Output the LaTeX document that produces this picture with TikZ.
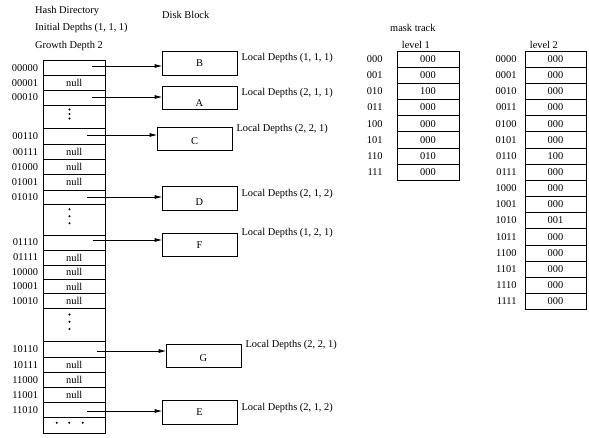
\documentclass[tikz,border=0pt]{standalone}
\usepackage{fontspec}
\setmainfont{Liberation Serif}
\usetikzlibrary{arrows.meta, positioning}

\tikzset{
  cell/.style={draw, line width=0.6pt, minimum width=61.5pt, inner sep=0pt},
  block/.style={draw, line width=0.7pt, minimum width=75pt, minimum height=23.5pt, inner sep=1pt},
  sink/.style={text height=#1},
  txt/.style={inner sep=0pt},
  ptr/.style={-{Triangle[length=7pt,width=3.5pt]}, line width=0.7pt},
  maskcell/.style={draw, line width=0.6pt, minimum width=62pt, minimum height=16.15pt, inner sep=0pt},
}

\begin{document}
\begin{tikzpicture}[x=1pt, y=-1pt, every node/.append style={font=\fontsize{10.4}{12}\selectfont}]
\useasboundingbox (0,0) rectangle (589,437);

% headings
\node[txt, anchor=west] (hdir) at (35,11) {Hash Directory};
\node[txt, anchor=west] (init) at (35,28) {Initial Depths (1, 1, 1)};
\node[txt, anchor=west] (grow) at (35,46) {Growth Depth 2};
\node[txt, anchor=west] (disk) at (162,15) {Disk Block};
\node[txt, anchor=west] (mtrack) at (390,28) {mask track};

% hash directory
\foreach \n/\t/\b/\v in {00000/60.5/75.5/{}, 00001/75.5/90/null, 00010/90/105/{}, e1/105/128.5/{},
    00110/128.5/144.5/{}, 00111/144.5/159.5/null, 01000/159.5/174.5/null, 01001/174.5/190/null,
    01010/190/204.5/{}, e2/204.5/235/{}, 01110/235/250/{}, 01111/250/265/null, 10000/265/279.5/null,
    10001/279.5/293.5/null, 10010/293.5/308.5/null, e3/308.5/341.5/{}, 10110/341.5/357.5/{},
    10111/357.5/372.5/null, 11000/372.5/387.5/null, 11001/387.5/402.5/null, 11010/402.5/417.5/{},
    more/417.5/433.5/{}} {
  \pgfmathsetmacro\h{\b-\t}
  \pgfmathsetmacro\c{(\t+\b)/2}
  \node[cell, minimum height=\h pt] (r\n) at (74.25,\c) {\v};
}
\foreach \n in {00000,00001,00010,00110,00111,01000,01001,01010,01110,01111,
    10000,10001,10010,10110,10111,11000,11001,11010}
  \node[txt, left=5pt of r\n] (l\n) {\n};

% dots
\foreach \e/\up/\s in {e1/2.75/4.5, e2/3.5/7, e3/3.3/7.3}
  \foreach \d in {-1,0,1}
    \fill ([xshift=-4.75pt, yshift={\up pt-\d*\s pt}]r\e.center) circle (1.1pt);
\foreach \dx in {-17.5,-5,8.5}
  \fill ([xshift=\dx pt, yshift=2.8pt]rmore.center) circle (1.1pt);

% disk blocks
\node[block] (B) at (199.5,63.5) {B};
\node[block, sink=16.9pt] (A) at (199.5,98) {A};
\node[block, sink=10.9pt] (C) at (194.5,139) {C};
\node[block, sink=13.9pt] (D) at (199.5,198.5) {D};
\node[block] (F) at (199.5,245) {F};
\node[block, sink=10.9pt] (G) at (203.5,356) {G};
\node[block] (E) at (199.5,412.5) {E};

\foreach \r/\x/\y/\k in {00000/92/66/B, 00010/92/97/A, 00110/87/135/C, 01010/87/197/D,
    01110/92.7/240/F, 10110/96.7/351/G, 11010/87/411/E} {
  \coordinate (s\r) at (\x,\y);
  \draw[ptr] (s\r) -- (s\r -| \k.west);
}

\foreach \k/\dx/\dy/\t in {B/4/7/{(1, 1, 1)}, A/4/7/{(2, 1, 1)}, C/4/2/{(2, 2, 1)}, D/4/8/{(2, 1, 2)},
    F/4/0/{(1, 2, 1)}, G/4/1/{(2, 2, 1)}, E/4/8/{(2, 1, 2)}}
  \node[txt, anchor=west] (ld\k) at ([xshift=\dx pt, yshift=-\dy pt]\k.north east) {Local Depths \t};

% mask track
\foreach \k/\v [count=\i] in {000/000, 001/000, 010/100, 011/000, 100/000, 101/000, 110/010, 111/000} {
  \node[maskcell] (a\k) at (428,{51+16.15*(\i-0.5)}) {\v};
  \node[txt, left=14pt of a\k] {\k};
}
\foreach \k/\v [count=\i] in {0000/000, 0001/000, 0010/000, 0011/000, 0100/000, 0101/000, 0110/100, 0111/000,
    1000/000, 1001/000, 1010/001, 1011/000, 1100/000, 1101/000, 1110/000, 1111/000} {
  \node[maskcell, minimum width=61pt] (b\k) at (555.5,{51+16.15*(\i-0.5)}) {\v};
  \node[txt, left=8pt of b\k] {\k};
}
\node[txt, anchor=base west] (lev1) at ([xshift=5pt, yshift=2.5pt]a000.north west) {level 1};
\node[txt, anchor=base west] (lev2) at ([xshift=5pt, yshift=2.5pt]b0000.north west) {level 2};
\end{tikzpicture}
\end{document}
